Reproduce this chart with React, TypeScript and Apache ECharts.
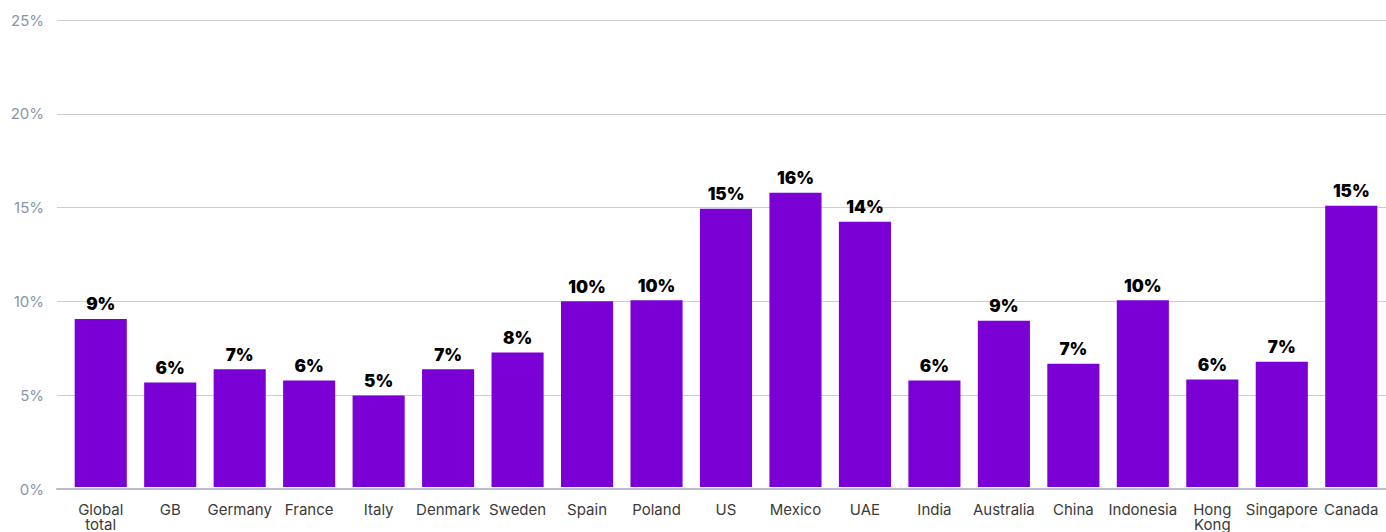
import React, { useEffect, useRef } from "react";
import * as echarts from "echarts";

const categories = ["Global\ntotal", "GB", "Germany", "France", "Italy", "Denmark", "Sweden", "Spain", "Poland", "US", "Mexico", "UAE", "India", "Australia", "China", "Indonesia", "Hong\nKong", "Singapore", "Canada"];
const values = [9.0, 5.6, 6.3, 5.7, 4.9, 6.3, 7.2, 9.95, 10.0, 14.9, 15.75, 14.2, 5.7, 8.9, 6.6, 10.0, 5.75, 6.7, 15.05];
const labels = ["9%", "6%", "7%", "6%", "5%", "7%", "8%", "10%", "10%", "15%", "16%", "14%", "6%", "9%", "7%", "10%", "6%", "7%", "15%"];
const yMin = 0;
const yMax = 25;
const yStep = 5;

export default function App() {
  const ref = useRef<HTMLDivElement>(null);
  useEffect(() => {
    if (!ref.current) return;
    const chart = echarts.init(ref.current, null, { renderer: "svg" });
    chart.setOption({
      animation: false,
      grid: [
        { left: 66, right: -5, top: 20, bottom: 43 },
        { left: 57, right: 0, top: 20, bottom: 43 },
      ],
      xAxis: [
        {
          type: "category",
          gridIndex: 0,
          data: categories,
          axisLine: { show: false },
          axisTick: { show: false },
          axisLabel: {
            interval: 0,
            color: "#3a3a3a",
            fontFamily: "Inter",
            fontSize: 15,
            lineHeight: 15,
            margin: 15,
            verticalAlign: "top",
          },
        },
        {
          type: "category",
          gridIndex: 1,
          data: ["a"],
          axisLine: { show: true, lineStyle: { color: "#b8bdcc", width: 2 } },
          axisTick: { show: false },
          axisLabel: { show: false },
        },
      ],
      yAxis: [
        {
          type: "value",
          gridIndex: 0,
          min: yMin,
          max: yMax,
          interval: yStep,
          show: false,
          splitLine: { show: false },
        },
        {
          type: "value",
          gridIndex: 1,
          min: yMin,
          max: yMax,
          interval: yStep,
          axisLine: { show: false },
          axisTick: { show: false },
          axisLabel: {
            formatter: "{value}%",
            color: "#8a93ab",
            fontFamily: "Inter",
            fontSize: 15,
            margin: 13,
          },
          splitLine: { lineStyle: { color: "#c9cdd9", width: 1 } },
        },
      ],
      series: [
        {
          type: "bar",
          xAxisIndex: 0,
          yAxisIndex: 0,
          data: values,
          barCategoryGap: "25%",
          z: 3,
          itemStyle: { color: "#7b00d6" },
          label: {
            show: true,
            position: "top",
            distance: 6,
            color: "#000",
            fontFamily: "Inter",
            fontWeight: 900,
            fontSize: 17,
            formatter: (p: any) => labels[p.dataIndex],
          },
        },
      ],
    });
    return () => chart.dispose();
  }, []);
  return <div ref={ref} style={{ width: 1386, height: 532, position: "absolute", left: 0, top: 0 }} />;
}
